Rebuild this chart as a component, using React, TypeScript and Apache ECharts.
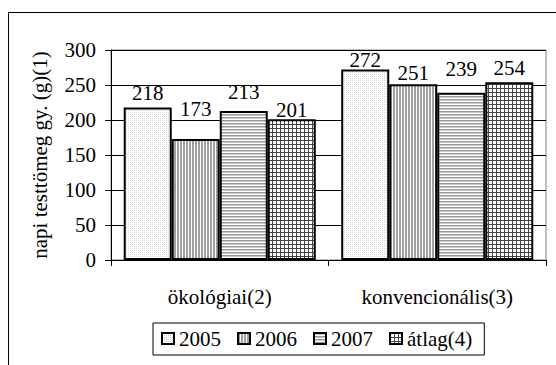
import React, { useEffect, useRef } from "react";
import * as echarts from "echarts";

const CATEGORIES = ["ökológiai(2)", "konvencionális(3)"];
const SERIES_NAMES = ["2005", "2006", "2007", "átlag(4)"];
const VALUES_2005 = [218, 272];
const VALUES_2006 = [173, 251];
const VALUES_2007 = [213, 239];
const VALUES_AVG = [201, 254];
const Y_MIN = 0;
const Y_MAX = 300;
const Y_STEP = 50;
const Y_TITLE = "napi testtömeg gy. (g)(1)";

// label lift above each bar (style only)
const LABEL_DIST = [
  [4, -1],
  [19, 1],
  [8, 13],
  [-1, 4],
];

const FONT = "Liberation Serif";
const FS = 21;

function makePattern(w: number, h: number, draw: (ctx: CanvasRenderingContext2D) => void) {
  const c = document.createElement("canvas");
  c.width = w;
  c.height = h;
  const ctx = c.getContext("2d") as CanvasRenderingContext2D;
  ctx.fillStyle = "#ffffff";
  ctx.fillRect(0, 0, w, h);
  draw(ctx);
  return { image: c, repeat: "repeat", imageWidth: w, imageHeight: h } as any;
}

export default function App() {
  const ref = useRef<HTMLDivElement>(null);

  useEffect(() => {
    document.body.style.margin = "0";
    if (!ref.current) return;
    const chart = echarts.init(ref.current, null, { renderer: "svg" });

    const pDots = makePattern(2, 2, (ctx) => {
      ctx.fillStyle = "#d4d4d4";
      ctx.fillRect(0, 0, 1, 1);
    });
    const pVert = makePattern(3, 3, (ctx) => {
      ctx.fillStyle = "#a0a0a0";
      ctx.fillRect(0, 0, 2, 3);
    });
    const pHorz = makePattern(3, 3, (ctx) => {
      ctx.fillStyle = "#9a9a9a";
      ctx.fillRect(0, 0, 3, 1);
      ctx.fillStyle = "#c8c8c8";
      ctx.fillRect(0, 1, 3, 1);
    });
    const pGrid = makePattern(4, 4, (ctx) => {
      ctx.fillStyle = "#444444";
      ctx.fillRect(0, 0, 4, 1);
      ctx.fillRect(0, 0, 1, 4);
    });
    const patterns = [pDots, pVert, pHorz, pGrid];
    const allValues = [VALUES_2005, VALUES_2006, VALUES_2007, VALUES_AVG];

    const series = SERIES_NAMES.map((name, si) => ({
      name,
      type: "bar",
      barGap: "0%",
      barCategoryGap: "11.7%",
      itemStyle: { color: patterns[si], borderColor: "#000", borderWidth: 2 },
      label: {
        show: true,
        position: "top",
        color: "#000",
        fontFamily: FONT,
        fontSize: FS,
      },
      data: allValues[si].map((v, ci) => ({
        value: v,
        label: { distance: LABEL_DIST[si][ci] },
      })),
    }));

    chart.setOption({
      animation: false,
      backgroundColor: "#fff",
      textStyle: { fontFamily: FONT },
      graphic: [
        {
          type: "rect",
          shape: { x: 8.5, y: 12.5, width: 700, height: 500 },
          style: { fill: "none", stroke: "#000", lineWidth: 1 },
          silent: true,
        },
      ],
      grid: {
        left: 111,
        right: 10,
        top: 50,
        bottom: 105,
        show: true,
        borderColor: "#808080",
        borderWidth: 1,
        containLabel: false,
      },
      legend: {
        left: 153,
        top: 323,
        data: SERIES_NAMES,
        icon: "rect",
        itemWidth: 12,
        itemHeight: 11,
        itemGap: 16,
        padding: [5, 12, 6, 8],
        borderColor: "#000",
        borderWidth: 1,
        textStyle: { fontFamily: FONT, fontSize: FS, color: "#000" },
      },
      xAxis: {
        type: "category",
        data: CATEGORIES,
        axisLine: { show: true, lineStyle: { color: "#000", width: 1 } },
        axisTick: { show: true, length: 6, lineStyle: { color: "#000" } },
        axisLabel: { color: "#000", fontFamily: FONT, fontSize: FS, margin: 26 },
        splitLine: { show: false },
      },
      yAxis: {
        type: "value",
        min: Y_MIN,
        max: Y_MAX,
        interval: Y_STEP,
        name: Y_TITLE,
        nameLocation: "middle",
        nameGap: 61,
        nameTextStyle: { fontFamily: FONT, fontSize: FS, color: "#000" },
        axisLine: { show: true, lineStyle: { color: "#000", width: 1 } },
        axisTick: { show: true, length: 6, lineStyle: { color: "#000" } },
        axisLabel: { color: "#000", fontFamily: FONT, fontSize: FS, margin: 15 },
        splitLine: { show: true, lineStyle: { color: "#000", width: 1 } },
      },
      series,
    });

    return () => chart.dispose();
  }, []);

  return <div ref={ref} style={{ width: 556, height: 365 }} />;
}
